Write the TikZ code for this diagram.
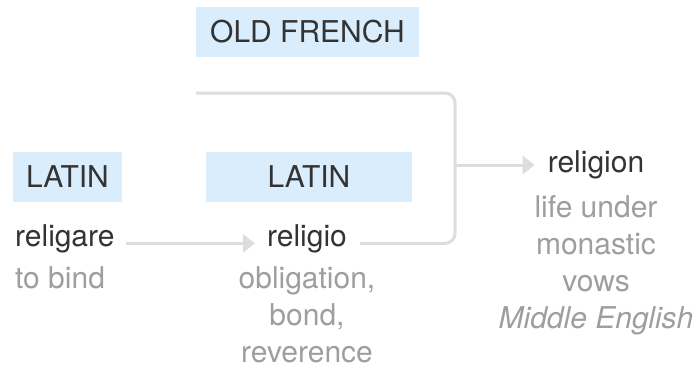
\documentclass[tikz,border=0pt]{standalone}
\usepackage{fontspec}
\setmainfont{TeX Gyre Heros}
\usetikzlibrary{positioning,arrows.meta}
\definecolor{boxblue}{RGB}{218,237,252}
\definecolor{headgray}{RGB}{51,51,51}
\definecolor{glossgray}{RGB}{158,158,158}
\definecolor{linkgray}{RGB}{221,221,221}
\begin{document}
\begin{tikzpicture}[x=1pt,y=-1pt]

    \tikzset{
      langbox/.style={
        fill=boxblue,
        text=headgray,
        minimum height=50pt,
        inner sep=0pt,
        font=\fontsize{30}{36}\selectfont,
      },
      word/.style={text=headgray, inner sep=0pt, font=\fontsize{30}{36}\selectfont},
      gloss/.style={text=glossgray, inner sep=0pt, align=center, font=\fontsize{30}{37}\selectfont},
      link/.style={draw=linkgray, line width=3pt},
      linkarrow/.style={link, -{Triangle[length=12pt,width=18pt]}, shorten <=11pt, shorten >=12pt},
    }
    \useasboundingbox (0,0) rectangle (700,370);

	\node[langbox, minimum width=223pt] (ofr) at (307.5,32) {OLD FRENCH};
	\node[langbox, minimum width=109pt] (lat1) at (67.5,177) {LATIN};
	\node[langbox, minimum width=206pt] (lat2) at (309,177) {LATIN};

	\node[word, anchor=base west] (religare) at (15,246) {religare};
	\node[word, anchor=base] (religio) at (307,246) {religio};
	\node[word, anchor=base] (religion) at (596,172) {religion};

	\node[gloss, below=20.5pt of religare.base west, anchor=north west] (bind) {to bind};
	\node[gloss, below=20.5pt of religio.base] (bond) {obligation,\\bond,\\reverence};
	\node[gloss, below=23.5pt of religion.base] (vows) {life under\\monastic\\vows\\\textit{Middle English}};

	\coordinate (split) at (455,165);
	\coordinate (fr) at (196,93);
	\draw[linkarrow] (religare.mid east) -- (religio.mid west);
	\draw[link, rounded corners=10pt, shorten <=13pt] (religio.mid east) -| (split |- fr) -- (fr);
	\draw[linkarrow, shorten <=0pt, shorten >=13pt] (split) -- (split -| religion.west);

\end{tikzpicture}
\end{document}
